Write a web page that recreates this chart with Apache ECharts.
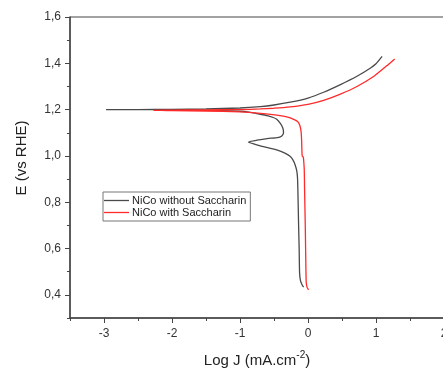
<!DOCTYPE html>
<html>
<head>
<meta charset="utf-8">
<script src="https://cdn.jsdelivr.net/npm/echarts@6/dist/echarts.min.js"></script>
<style>html,body{margin:0;padding:0;background:#fff}#c{width:443px;height:369px}</style>
</head>
<body>
<div id="c"></div>
<script>
// NiCo without Saccharin (from bottom of cathodic branch to end of anodic branch)
var withoutLogJ = [-0.065,-0.089,-0.11,-0.124,-0.13,-0.138,-0.145,-0.153,-0.165,-0.19,-0.22,-0.26,-0.34,-0.46,-0.58,-0.70,-0.80,-0.877,-0.75,-0.6,-0.45,-0.39,-0.36,-0.365,-0.385,-0.41,-0.46,-0.51,-0.6,-0.7,-0.85,-1.0,-1.5,-2.0,-2.5,-2.97,-2.5,-2.0,-1.5,-1.0,-0.7,-0.5,-0.26,0,0.23,0.477,0.72,0.92,1.0,1.09];
var withoutE    = [0.433,0.445,0.46,0.496,0.6,0.697,0.8,0.898,0.935,0.962,0.982,0.998,1.012,1.026,1.035,1.043,1.052,1.060,1.068,1.075,1.079,1.085,1.098,1.115,1.13,1.142,1.158,1.166,1.174,1.18,1.188,1.193,1.197,1.199,1.2,1.2,1.2,1.201,1.203,1.207,1.213,1.22,1.232,1.25,1.275,1.308,1.344,1.38,1.398,1.43];
// NiCo with Saccharin
var withLogJ = [0.01,-0.01,-0.025,-0.03,-0.04,-0.05,-0.055,-0.065,-0.07,-0.085,-0.09,-0.093,-0.1,-0.11,-0.124,-0.15,-0.21,-0.3,-0.46,-0.7,-1.0,-1.5,-2.0,-2.27,-2.0,-1.5,-1.0,-0.7,-0.5,-0.26,0,0.23,0.477,0.72,0.97,1.17,1.275];
var withE    = [0.422,0.43,0.45,0.496,0.697,0.85,0.94,0.985,0.995,1.0,1.026,1.06,1.1,1.12,1.135,1.148,1.158,1.168,1.176,1.184,1.19,1.194,1.196,1.197,1.198,1.199,1.2,1.203,1.206,1.212,1.223,1.24,1.267,1.3,1.344,1.392,1.419];
var seriesNames = ['NiCo without Saccharin','NiCo with Saccharin'];
var xMajorTicks = [-3,-2,-1,0,1,2];
var yMajorTicks = [0.4,0.6,0.8,1.0,1.2,1.4,1.6];

function pairs(xs, ys){ return xs.map(function(x,i){ return [x, ys[i]]; }); }
var axisColor = '#444';
var font = 'Liberation Sans, Arial, sans-serif';
var lineIcon = 'path://M0,0H25V1.3H0Z';

var chart = echarts.init(document.getElementById('c'), null, {renderer:'canvas'});
chart.setOption({
  animation: false,
  backgroundColor: '#fff',
  textStyle: {fontFamily: font},
  grid: {left: 70, top: 17, right: -1, bottom: 51, outerBoundsMode: 'none', containLabel: false, show: true, borderColor: axisColor, borderWidth: 1, backgroundColor: 'transparent'},
  legend: {
    orient: 'vertical', left: 103, top: 192,
    padding: [3, 4, 3, 1], itemGap: 1, itemWidth: 25, itemHeight: 12,
    borderColor: '#777', borderWidth: 1,
    textStyle: {fontSize: 11, color: '#222', fontFamily: font, padding: [0,0,0,-2]},
    data: [{name: seriesNames[0], icon: lineIcon}, {name: seriesNames[1], icon: lineIcon}]
  },
  xAxis: [{
    type: 'value', min: -3.5, max: 2, interval: 0.5,
    name: '{a|Log J (mA.cm}{s|-2}{a|)}', nameLocation: 'middle', nameGap: 32,
    nameTextStyle: {rich: {a: {fontSize: 15, color: '#222', fontFamily: font, lineHeight: 18, verticalAlign: 'bottom'}, s: {fontSize: 10, color: '#222', fontFamily: font, lineHeight: 18, verticalAlign: 'top'}}},
    axisLine: {show: true, onZero: false, lineStyle: {color: axisColor, width: 1.5}},
    axisTick: {show: true, inside: false, length: 3, lineStyle: {color: axisColor}},
    axisLabel: {fontSize: 12, color: '#333', margin: 10, formatter: function(v){ return Math.abs(v - Math.round(v)) < 1e-9 ? String(Math.round(v)) : ''; }},
    splitLine: {show: false}
  },{
    type: 'value', min: -3.5, max: 2, position: 'bottom',
    axisLine: {show: false, onZero: false}, axisLabel: {show: false}, splitLine: {show: false},
    axisTick: {show: true, length: 5, customValues: xMajorTicks, lineStyle: {color: axisColor}}
  }],
  yAxis: [{
    type: 'value', min: 0.3, max: 1.6, interval: 0.1,
    name: 'E (vs RHE)', nameLocation: 'middle', nameGap: 41,
    nameTextStyle: {fontSize: 15, color: '#222', fontFamily: font, padding: [0,0,0,19]},
    axisLine: {show: true, onZero: false, lineStyle: {color: axisColor, width: 1.5}},
    axisTick: {show: true, length: 3, lineStyle: {color: axisColor}},
    axisLabel: {fontSize: 12, color: '#333', margin: 9, formatter: function(v){ var t = Math.round(v*10); return t % 2 === 0 ? (t/10).toFixed(1).replace('.', ',') : ''; }},
    splitLine: {show: false}
  },{
    type: 'value', min: 0.3, max: 1.6, position: 'left',
    axisLine: {show: false, onZero: false}, axisLabel: {show: false}, splitLine: {show: false},
    axisTick: {show: true, length: 5, customValues: yMajorTicks, lineStyle: {color: axisColor}}
  }],
  series: [{
    name: seriesNames[0], type: 'line', data: pairs(withoutLogJ, withoutE),
    symbol: 'none', smooth: 0.15, lineStyle: {color: '#4a4a4a', width: 1.3}, itemStyle: {color: '#4a4a4a'}
  },{
    name: seriesNames[1], type: 'line', data: pairs(withLogJ, withE),
    symbol: 'none', smooth: 0.15, lineStyle: {color: '#ff2a2a', width: 1.3}, itemStyle: {color: '#ff2a2a'}
  }]
});
</script>
</body>
</html>
